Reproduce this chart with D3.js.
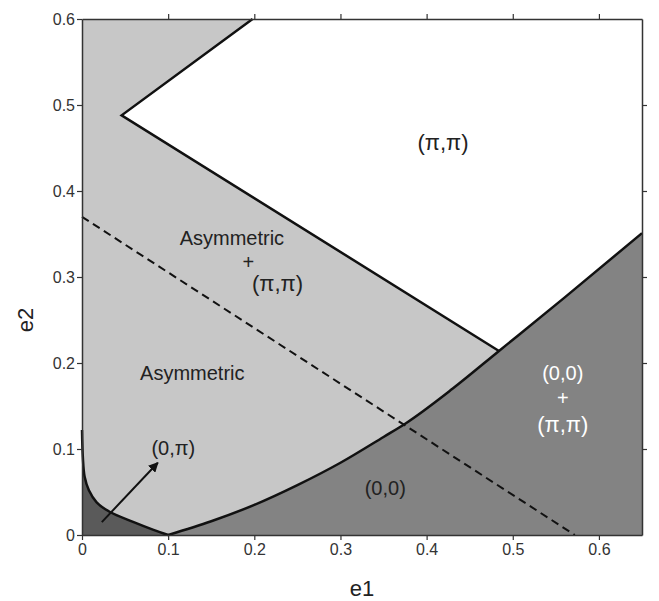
<!DOCTYPE html>
<html>
<head>
<meta charset="utf-8">
<script src="https://cdn.jsdelivr.net/npm/d3@7"></script>
<style>
  body { margin: 0; background: #fff; }
  svg text { font-family: "Liberation Sans", Arial, sans-serif; }
</style>
</head>
<body>
<div id="chart"></div>
<script>
// axis ticks
const xTicks = [0, 0.1, 0.2, 0.3, 0.4, 0.5, 0.6];
const yTicks = [0, 0.1, 0.2, 0.3, 0.4, 0.5, 0.6];

// boundary between asymmetric phase and (pi,pi)
const asymBoundary = [[0.198, 0.6], [0.046, 0.488], [0.484, 0.214]];
// lower boundary of the (0,0) phase
const zeroZeroBoundary = [[0.1, 0], [0.15, 0.016], [0.2, 0.035], [0.25, 0.058], [0.3, 0.084],
  [0.35, 0.114], [0.376, 0.13], [0.43, 0.17], [0.484, 0.214], [0.56, 0.276], [0.65, 0.351]];
// boundary of the (0,pi) pocket near the origin
const zeroPiBoundary = [[0, 0.122], [0.001, 0.09], [0.003, 0.068], [0.008, 0.052], [0.017, 0.038],
  [0.032, 0.027], [0.06, 0.015], [0.083, 0.006], [0.1, 0]];
const dashedLine = [[0, 0.37], [0.572, 0]];
const arrowLine = [[0.023, 0.015], [0.088, 0.084]];

const labels = [
  {text: "(π,π)", x: 0.419, y: 0.456, serif: true, color: "#222"},
  {text: "Asymmetric", x: 0.174, y: 0.345, color: "#222"},
  {text: "+", x: 0.193, y: 0.317, color: "#222"},
  {text: "(π,π)", x: 0.227, y: 0.293, serif: true, color: "#222"},
  {text: "Asymmetric", x: 0.128, y: 0.188, color: "#222"},
  {text: "(0,π)", x: 0.106, y: 0.101, color: "#222"},
  {text: "(0,0)", x: 0.352, y: 0.055, color: "#222"},
  {text: "(0,0)", x: 0.558, y: 0.188, color: "#fff"},
  {text: "+", x: 0.558, y: 0.159, color: "#fff"},
  {text: "(π,π)", x: 0.558, y: 0.128, serif: true, color: "#fff"}
];

const width = 659, height = 601;
const margin = {left: 82, right: 17, top: 19, bottom: 66};

const svg = d3.select('#chart').append('svg')
    .attr('width', width)
    .attr('height', height);

const x = d3.scaleLinear().domain([0, 0.65]).range([margin.left, width - margin.right]);
const y = d3.scaleLinear().domain([0, 0.6]).range([height - margin.bottom, margin.top]);

const line = d3.line().x(d => x(d[0])).y(d => y(d[1]));
const smooth = d3.line().x(d => x(d[0])).y(d => y(d[1])).curve(d3.curveCatmullRom);
const mono = d3.line().x(d => x(d[0])).y(d => y(d[1])).curve(d3.curveMonotoneX);

const x0 = x(0), x1 = x(0.65), y0 = y(0), y1 = y(0.6);

// asymmetric background
svg.append('rect')
    .attr('x', x0).attr('y', y1)
    .attr('width', x1 - x0).attr('height', y0 - y1)
    .attr('fill', '#c7c7c7');

// (pi,pi) region
const upper = zeroZeroBoundary.filter(d => d[0] >= 0.484);
const whitePath = line(asymBoundary) + mono(upper).replace(/^M/, 'L')
    + `L${x1},${y1}Z`;
svg.append('path').attr('d', whitePath).attr('fill', '#fff');

// (0,0) region
svg.append('path')
    .attr('d', mono(zeroZeroBoundary) + `L${x1},${y0}Z`)
    .attr('fill', '#838383');

// (0,pi) pocket
svg.append('path')
    .attr('d', smooth(zeroPiBoundary) + `L${x0},${y0}Z`)
    .attr('fill', '#5a5a5a');

// boundaries
svg.append('path').attr('d', line(asymBoundary))
    .attr('fill', 'none').attr('stroke', '#111').attr('stroke-width', 2.5);
svg.append('path').attr('d', mono(zeroZeroBoundary))
    .attr('fill', 'none').attr('stroke', '#111').attr('stroke-width', 2.5);
svg.append('path').attr('d', smooth(zeroPiBoundary))
    .attr('fill', 'none').attr('stroke', '#111').attr('stroke-width', 2.5);
svg.append('path').attr('d', line(dashedLine))
    .attr('fill', 'none').attr('stroke', '#111').attr('stroke-width', 2)
    .attr('stroke-dasharray', '8,5');

// arrow
svg.append('defs').append('marker')
    .attr('id', 'head')
    .attr('viewBox', '0 0 10 10')
    .attr('refX', 9).attr('refY', 5)
    .attr('markerWidth', 5).attr('markerHeight', 5)
    .attr('orient', 'auto')
  .append('path').attr('d', 'M0,0L10,5L0,10Z').attr('fill', '#111');
svg.append('path').attr('d', line(arrowLine))
    .attr('stroke', '#111').attr('stroke-width', 2)
    .attr('marker-end', 'url(#head)');

// axes
function styleAxis(g, showText) {
  g.select('.domain').attr('stroke', '#333').attr('stroke-width', 1.5);
  g.selectAll('.tick line').attr('stroke', '#333').attr('stroke-width', 1.2);
  g.selectAll('.tick text').attr('font-size', 16).attr('fill', '#333')
    .attr('font-family', '"Liberation Sans", Arial, sans-serif');
  if (!showText) g.selectAll('.tick text').remove();
}

svg.append('g').attr('transform', `translate(0,${y0})`)
    .call(d3.axisBottom(x).tickValues(xTicks).tickSize(5).tickPadding(4)
      .tickFormat(d => d === 0 ? '0' : d3.format('.1f')(d)).tickSizeOuter(0))
    .call(g => styleAxis(g, true));
svg.append('g').attr('transform', `translate(${x0},0)`)
    .call(d3.axisLeft(y).tickValues(yTicks).tickSize(5).tickPadding(2)
      .tickFormat(d => d === 0 ? '0' : d3.format('.1f')(d)).tickSizeOuter(0))
    .call(g => styleAxis(g, true));
svg.append('g').attr('transform', `translate(0,${y1})`)
    .call(d3.axisTop(x).tickValues(xTicks.slice(1)).tickSize(5).tickSizeOuter(0))
    .call(g => styleAxis(g, false));
svg.append('g').attr('transform', `translate(${x1},0)`)
    .call(d3.axisRight(y).tickValues(yTicks.slice(1, -1)).tickSize(5).tickSizeOuter(0))
    .call(g => styleAxis(g, false));

// region labels
svg.append('g').selectAll('text')
  .data(labels)
  .join('text')
    .attr('x', d => x(d.x))
    .attr('y', d => y(d.y))
    .attr('text-anchor', 'middle')
    .attr('dominant-baseline', 'central')
    .attr('font-size', d => d.serif ? 22 : 20)
    .attr('font-family', d => d.serif ? '"Liberation Serif", "Times New Roman", serif'
                                      : '"Liberation Sans", Arial, sans-serif')
    .attr('fill', d => d.color)
    .text(d => d.text);

// axis titles
svg.append('text')
    .attr('x', (x0 + x1) / 2).attr('y', 588)
    .attr('text-anchor', 'middle').attr('dominant-baseline', 'central')
    .attr('font-size', 22).attr('fill', '#222')
    .text('e1');
svg.append('text')
    .attr('transform', 'translate(25,320) rotate(-90)')
    .attr('text-anchor', 'middle').attr('dominant-baseline', 'central')
    .attr('font-size', 22).attr('fill', '#222')
    .text('e2');
</script>
</body>
</html>
